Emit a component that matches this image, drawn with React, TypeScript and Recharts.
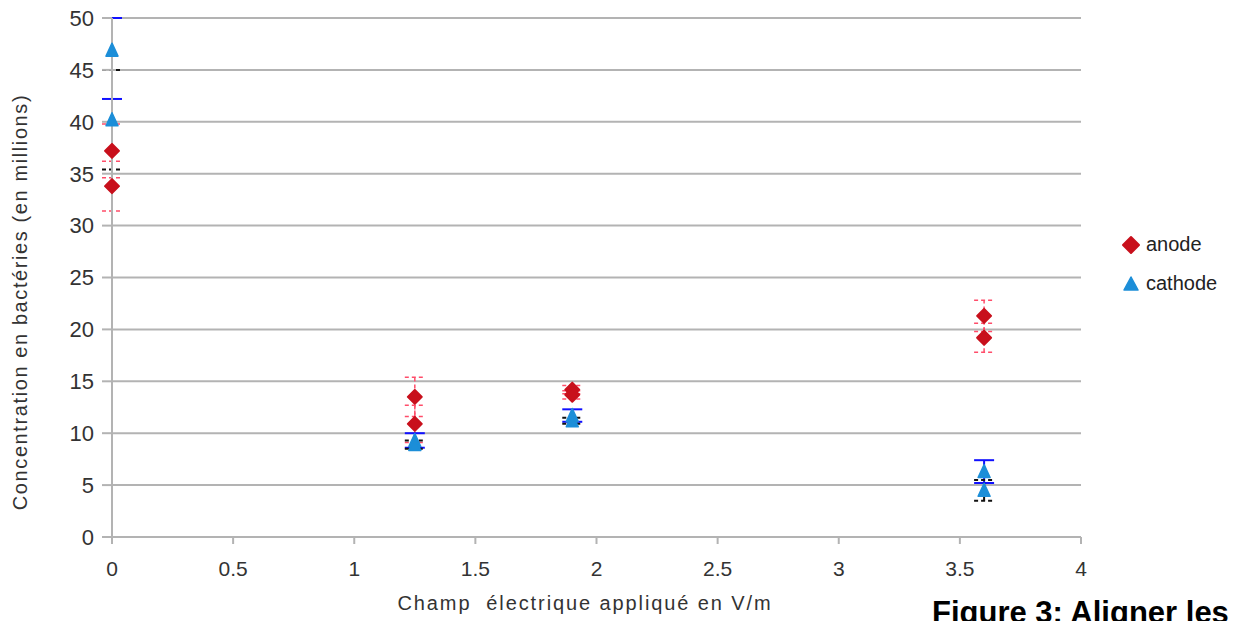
import React from "react";
import {
  ScatterChart,
  Scatter,
  XAxis,
  YAxis,
  CartesianGrid,
  ErrorBar,
} from "recharts";

// field strength (V/m) for each measurement group
const fields = [0, 1.25, 1.9, 3.6];

// two repeats per group for each electrode, values in millions
const anodeA = [37.2, 13.5, 14.2, 21.3];
const anodeErrA = [2.6, 1.9, 0.4, 1.5];
const anodeB = [33.8, 10.9, 13.7, 19.2];
const anodeErrB = [2.4, 1.8, 0.4, 1.4];

const cathodeA = [46.9, 9.3, 11.7, 6.3];
const cathodeErrA: [number, number][] = [[4.7, 3.1], [0.7, 0.7], [0.6, 0.6], [1.1, 1.1]];
const cathodeB = [40.2, 8.9, 11.2, 4.5];
const cathodeErrB = [4.8, 0.4, 0.3, 1.0];

const xTicks = [0, 0.5, 1, 1.5, 2, 2.5, 3, 3.5, 4];
const yTicks = [0, 5, 10, 15, 20, 25, 30, 35, 40, 45, 50];

const RED = "#c8101c";
const BLUE = "#1c8ed8";
const FONT = "'Liberation Sans', Arial, sans-serif";

const build = (vals: number[], errs: any[]) =>
  fields.map((x, i) => ({ x, y: vals[i], err: errs[i] }));

const Diamond = (props: any) => {
  const { cx, cy } = props;
  const r = 7;
  return (
    <polygon
      points={`${cx},${cy - r} ${cx + r},${cy} ${cx},${cy + r} ${cx - r},${cy}`}
      fill={RED}
      stroke={RED}
      strokeLinejoin="round"
      strokeWidth={2}
    />
  );
};

const Triangle = (props: any) => {
  const { cx, cy } = props;
  return (
    <polygon
      points={`${cx},${cy - 7} ${cx + 6},${cy + 6} ${cx - 6},${cy + 6}`}
      fill={BLUE}
      stroke={BLUE}
      strokeLinejoin="round"
      strokeWidth={1.5}
    />
  );
};

const App = () => {
  return (
    <div
      style={{
        position: "absolute",
        left: 0,
        top: 0,
        width: 1240,
        height: 621,
        background: "#fff",
        fontFamily: FONT,
        overflow: "hidden",
      }}
    >
      <ScatterChart
        width={1240}
        height={621}
        margin={{ top: 18, right: 159, left: 0, bottom: 0 }}
      >
        <CartesianGrid vertical={false} stroke="#b3b3b3" strokeWidth={2} />
        <XAxis
          type="number"
          dataKey="x"
          domain={[0, 4]}
          ticks={xTicks}
          interval={0}
          height={84}
          stroke="#b3b3b3"
          strokeWidth={2}
          tickSize={7}
          tickMargin={17}
          tick={{ fill: "#333", fontSize: 21, fontFamily: FONT }}
        />
        <YAxis
          type="number"
          dataKey="y"
          domain={[0, 50]}
          ticks={yTicks}
          interval={0}
          width={112}
          stroke="#b3b3b3"
          strokeWidth={2}
          tickSize={10}
          tickMargin={8}
          tick={{ fill: "#333", fontSize: 22, fontFamily: FONT }}
        />
        <Scatter
          name="anode"
          data={build(anodeA, anodeErrA)}
          shape={<Diamond />}
          isAnimationActive={false}
        >
          <ErrorBar dataKey="err" direction="y" width={10} stroke="#ff4d6a" strokeWidth={1.5} strokeDasharray="4 3" />
        </Scatter>
        <Scatter
          name="anode2"
          data={build(anodeB, anodeErrB)}
          shape={<Diamond />}
          isAnimationActive={false}
        >
          <ErrorBar dataKey="err" direction="y" width={10} stroke="#ff4d6a" strokeWidth={1.5} strokeDasharray="4 3" />
        </Scatter>
        <Scatter
          name="cathode"
          data={build(cathodeA, cathodeErrA)}
          shape={<Triangle />}
          isAnimationActive={false}
        >
          <ErrorBar dataKey="err" direction="y" width={10} stroke="#1010ff" strokeWidth={2} />
        </Scatter>
        <Scatter
          name="cathode2"
          data={build(cathodeB, cathodeErrB)}
          shape={<Triangle />}
          isAnimationActive={false}
        >
          <ErrorBar dataKey="err" direction="y" width={10} stroke="#111" strokeWidth={2} strokeDasharray="4 3" />
        </Scatter>
      </ScatterChart>

      {/* axis titles */}
      <div
        style={{
          position: "absolute",
          left: 585,
          top: 603,
          transform: "translate(-50%, -50%)",
          fontSize: 20,
          letterSpacing: 1.9,
          color: "#333",
          whiteSpace: "pre",
        }}
      >
        {"Champ  électrique appliqué en V/m"}
      </div>
      <div
        style={{
          position: "absolute",
          left: 20,
          top: 302,
          transform: "translate(-50%, -50%) rotate(-90deg)",
          fontSize: 20,
          letterSpacing: 1.6,
          color: "#333",
          whiteSpace: "pre",
        }}
      >
        Concentration en bactéries (en millions)
      </div>

      {/* legend */}
      <div style={{ position: "absolute", left: 1121, top: 225, fontSize: 20, color: "#222", lineHeight: "39px" }}>
        <div style={{ display: "flex", alignItems: "center" }}>
          <svg width={20} height={20} style={{ marginRight: 5 }}>
            <polygon points="10,2 18,10 10,18 2,10" fill={RED} stroke={RED} strokeLinejoin="round" strokeWidth={2} />
          </svg>
          anode
        </div>
        <div style={{ display: "flex", alignItems: "center" }}>
          <svg width={20} height={20} style={{ marginRight: 5 }}>
            <polygon points="10,3 17,16 3,16" fill={BLUE} stroke={BLUE} strokeLinejoin="round" strokeWidth={1.5} />
          </svg>
          cathode
        </div>
      </div>

      <div
        style={{
          position: "absolute",
          left: 932,
          top: 595,
          fontSize: 31,
          fontWeight: "bold",
          color: "#000",
          whiteSpace: "nowrap",
        }}
      >
        Figure 3: Aligner les
      </div>
    </div>
  );
};

export default App;
